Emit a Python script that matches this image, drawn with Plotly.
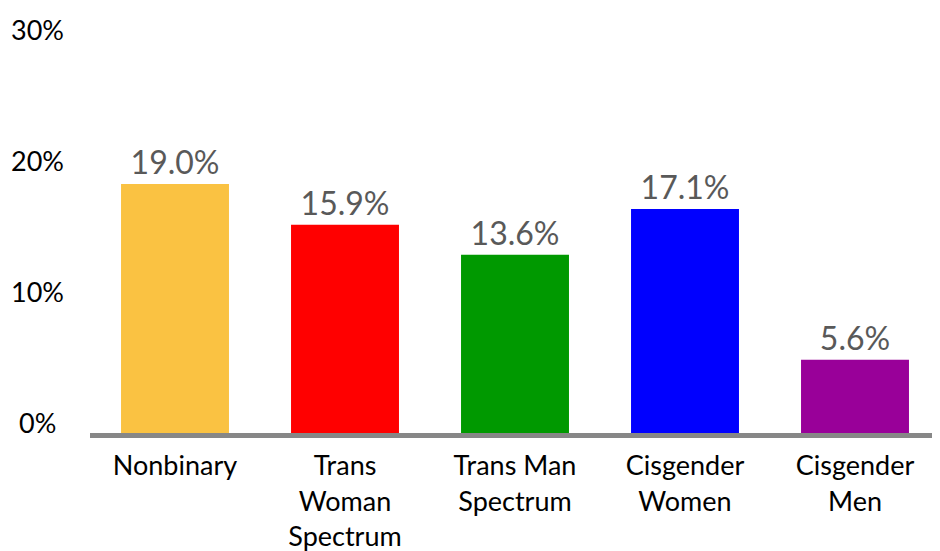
import plotly.graph_objects as go

categories = ["Nonbinary", "Trans<br>Woman<br>Spectrum", "Trans Man<br>Spectrum", "Cisgender<br>Women", "Cisgender<br>Men"]
values = [19.0, 15.9, 13.6, 17.1, 5.6]
colors = ["#FAC242", "#FF0000", "#009900", "#0000FF", "#990099"]
tick_vals = [0, 10, 20, 30]
tick_text = ["0%", "10%", "20%", "30%"]

FONT = "Lato"

fig = go.Figure(go.Bar(
    x=categories,
    y=values,
    marker=dict(color=colors, line=dict(width=0)),
    text=[f"{v:.1f}%" for v in values],
    textposition="outside",
    textfont=dict(family=FONT, size=32, color="#595959"),
    cliponaxis=False,
))

fig.update_layout(
    width=932, height=543,
    margin=dict(l=82, r=0, t=32, b=118),
    paper_bgcolor="white", plot_bgcolor="white",
    bargap=0.365,
    showlegend=False,
    font=dict(family=FONT, color="#000000"),
)
fig.update_xaxes(
    showline=True, linecolor="#878787", linewidth=5,
    tickfont=dict(family=FONT, size=27, color="#000000"),
    ticks="", showgrid=False, automargin=False,
    ticklabelstandoff=5,
)
fig.update_yaxes(
    range=[0, 30], tickvals=tick_vals,
    showticklabels=False,
    showgrid=False, zeroline=False, showline=False, ticks="",
    automargin=False,
)

# y tick labels, centred horizontally like the original
for v, t in zip(tick_vals, tick_text):
    fig.add_annotation(
        x=0, xref="paper", y=v, yref="y",
        text=t, showarrow=False,
        xanchor="center", yanchor="middle",
        xshift=-52.5, yshift=11,
        font=dict(family=FONT, size=27, color="#000000"),
    )

fig.write_html("out.html")
